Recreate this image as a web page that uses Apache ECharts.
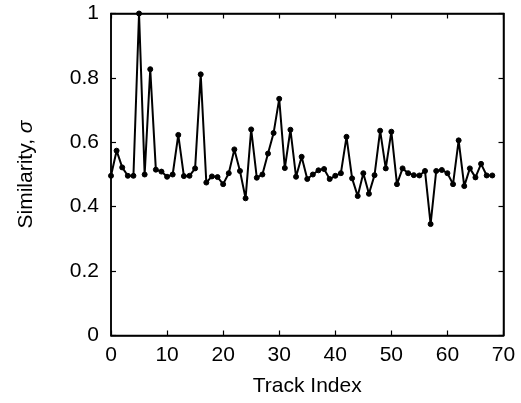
<!DOCTYPE html>
<html><head><meta charset="utf-8">
<script src="https://cdn.jsdelivr.net/npm/echarts@6/dist/echarts.min.js"></script>
<style>html,body{margin:0;padding:0;background:#fff}#c{width:521px;height:403px}</style>
</head><body><div id="c"></div>
<script>
const trackIndex = [];
for (let i = 0; i <= 68; i++) trackIndex.push(i);
const similarity = [
0.496,0.574,0.522,0.496,0.496,1.0,0.50,0.827,0.515,0.509,
0.493,0.50,0.623,0.495,0.496,0.519,0.811,0.475,0.494,0.492,
0.47,0.504,0.578,0.511,0.426,0.64,0.49,0.50,0.565,0.629,
0.735,0.52,0.639,0.493,0.555,0.486,0.50,0.513,0.517,0.486,
0.496,0.504,0.617,0.488,0.433,0.504,0.44,0.498,0.636,0.519,
0.633,0.47,0.519,0.504,0.498,0.497,0.511,0.346,0.511,0.514,
0.504,0.47,0.606,0.464,0.519,0.491,0.533,0.497,0.497];
const xTicks = [0,10,20,30,40,50,60,70];
const yTicks = [0,0.2,0.4,0.6,0.8,1];

const font = 'Liberation Sans, Arial, sans-serif';
const chart = echarts.init(document.getElementById('c'));
const axisLine = {show:true, onZero:false, lineStyle:{color:'#000', width:1.5}};
const tick = {show:true, inside:true, length:5, lineStyle:{color:'#000', width:1.2}};
chart.setOption({
  animation:false,
  grid:{left:111, right:17.5, top:13.5, bottom:67.5, show:true, borderColor:'#000', borderWidth:1.5, backgroundColor:'transparent'},
  xAxis:[{
    type:'value', min:0, max:70, interval:10,
    axisLine, axisTick:tick, splitLine:{show:false},
    axisLabel:{color:'#000', fontSize:21, fontFamily:font, margin:9},
    name:'Track Index', nameLocation:'middle', nameGap:40,
    nameTextStyle:{color:'#000', fontSize:21, fontFamily:font}
  },{
    type:'value', min:0, max:70, interval:10, position:'top', show:true,
    axisLine, axisTick:tick, axisLabel:{show:false}, splitLine:{show:false}
  }],
  yAxis:[{
    type:'value', min:0, max:1, interval:0.2,
    axisLine, axisTick:tick, splitLine:{show:false},
    axisLabel:{color:'#000', fontSize:21, fontFamily:font, margin:12,
      formatter:v=>String(+v.toFixed(1))},
    name:'{a|Similarity, }{b|σ}', nameLocation:'middle', nameGap:74,
    nameTextStyle:{color:'#000', fontSize:21, fontFamily:font,
      rich:{a:{fontSize:21, fontFamily:font, color:'#000'}, b:{fontSize:21, fontFamily:font, fontStyle:'italic', color:'#000'}}}
  },{
    type:'value', min:0, max:1, interval:0.2, position:'right', show:true,
    axisLine, axisTick:tick, axisLabel:{show:false}, splitLine:{show:false}
  }],
  series:[{
    type:'line', data:trackIndex.map((x,i)=>[x, similarity[i]]),
    symbol:'circle', symbolSize:5, showSymbol:true,
    lineStyle:{color:'#000', width:2},
    itemStyle:{color:'#000', borderColor:'#000'}
  },{
    type:'line', xAxisIndex:1, yAxisIndex:1, data:[], silent:true
  }]
});
</script></body></html>
